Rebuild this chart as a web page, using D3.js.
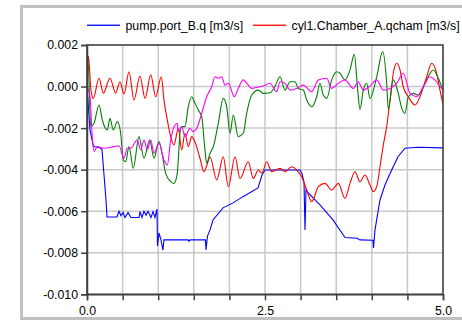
<!DOCTYPE html>
<html>
<head>
<meta charset="utf-8">
<script src="https://cdn.jsdelivr.net/npm/d3@7"></script>
<style>
  body { margin: 0; background: #fff; }
  svg { display: block; font-family: "Liberation Sans", Arial, sans-serif; }
</style>
</head>
<body>
<svg id="chart" width="462" height="322"></svg>
<script>
// time axis [s] and tick labels
const xTicks = [0, 0.5, 1, 1.5, 2, 2.5, 3, 3.5, 4, 4.5, 5];
const xLabels = [0, 2.5, 5];
const yTicks = [-0.010, -0.008, -0.006, -0.004, -0.002, 0.000, 0.002];

const legendNames = ["pump.port_B.q [m3/s]", "cyl1.Chamber_A.qcham [m3/s]"];

// pump.port_B.q
const pumpT = [0, 0.042, 0.088, 0.112, 0.183, 0.211, 0.239, 0.267, 0.281, 0.421, 0.449, 0.478, 0.506, 0.534, 0.576, 0.618, 0.73, 0.744, 0.772, 0.80, 0.829, 0.857, 0.899, 0.927, 0.955, 0.983, 0.99, 1.011, 1.039, 1.067, 1.081, 1.419, 1.433, 1.447, 1.664, 1.671, 1.692, 1.728, 1.77, 1.91, 2.051, 2.191, 2.402, 2.458, 2.50, 2.992, 3.02, 3.048, 3.062, 3.076, 3.09, 3.272, 3.455, 3.624, 3.792, 3.834, 4.017, 4.024, 4.045, 4.115, 4.185, 4.279, 4.368, 4.466, 4.649, 5.0];
const pumpQ = [0, -0.0021, -0.00286, -0.0029, -0.00295, -0.00305, -0.00426, -0.00546, -0.00628, -0.00628, -0.006, -0.00622, -0.00605, -0.0063, -0.00607, -0.0063, -0.0063, -0.00602, -0.0063, -0.006, -0.0062, -0.006, -0.0063, -0.00602, -0.0063, -0.0059, -0.00767, -0.00705, -0.00738, -0.00787, -0.00738, -0.00738, -0.00745, -0.00738, -0.00738, -0.00787, -0.0072, -0.0069, -0.00642, -0.00584, -0.0056, -0.0053, -0.00488, -0.00426, -0.00402, -0.00402, -0.0042, -0.0046, -0.0069, -0.00498, -0.00506, -0.0057, -0.00642, -0.00727, -0.0073, -0.00738, -0.0074, -0.00777, -0.0069, -0.00546, -0.00474, -0.00402, -0.00338, -0.00297, -0.00292, -0.00295];

// cyl1.Chamber_A.qcham
const chamT = [0, 0.02, 0.056, 0.088, 0.169, 0.229, 0.323, 0.403, 0.463, 0.52, 0.59, 0.66, 0.744, 0.815, 0.895, 0.965, 1.044, 1.081, 1.128, 1.176, 1.222, 1.282, 1.33, 1.376, 1.423, 1.47, 1.517, 1.587, 1.643, 1.685, 1.728, 1.822, 1.914, 1.985, 2.079, 2.149, 2.265, 2.336, 2.406, 2.458, 2.524, 2.594, 2.711, 2.781, 2.875, 2.945, 3.015, 3.086, 3.156, 3.249, 3.343, 3.437, 3.53, 3.624, 3.694, 3.764, 3.834, 3.904, 3.975, 4.021, 4.069, 4.115, 4.162, 4.209, 4.256, 4.302, 4.35, 4.396, 4.442, 4.513, 4.607, 4.677, 4.771, 4.841, 4.911, 4.958, 5.0];
const chamQ = [0.0003, 0.00147, -0.0002, -0.00057, 0.0004, -0.00032, 0.0004, -0.00032, 0.00023, -0.00036, 0.00071, -0.00065, 0.00051, -0.00057, 0.00056, -0.00049, 0.00047, -0.00065, -0.00161, -0.00241, -0.00281, -0.00201, -0.00305, -0.00225, -0.00289, -0.00241, -0.00267, -0.00345, -0.00411, -0.00378, -0.00339, -0.0045, -0.00338, -0.00482, -0.00338, -0.00442, -0.00362, -0.00442, -0.00402, -0.00416, -0.00362, -0.0041, -0.00394, -0.0041, -0.00386, -0.00402, -0.00434, -0.00498, -0.00554, -0.00482, -0.00466, -0.00498, -0.00466, -0.00538, -0.00466, -0.0041, -0.00458, -0.00426, -0.00474, -0.00506, -0.00482, -0.00386, -0.00281, -0.00193, -0.00065, 0.00064, 0.00112, 0.0008, -0.00001, -0.00049, -0.00089, -0.00049, 0.00047, 0.00112, 0.00064, -0.00017, -0.00085];

// green trace
const greenT = [0, 0.014, 0.052, 0.098, 0.169, 0.215, 0.285, 0.323, 0.369, 0.426, 0.473, 0.51, 0.544, 0.59, 0.65, 0.73, 0.80, 0.881, 0.941, 1.011, 1.058, 1.105, 1.176, 1.222, 1.268, 1.282, 1.306, 1.33, 1.376, 1.423, 1.47, 1.517, 1.563, 1.611, 1.657, 1.681, 1.728, 1.774, 1.844, 1.914, 1.962, 2.008, 2.055, 2.125, 2.195, 2.243, 2.313, 2.406, 2.476, 2.57, 2.64, 2.711, 2.781, 2.851, 2.921, 2.968, 3.038, 3.086, 3.156, 3.226, 3.272, 3.319, 3.367, 3.437, 3.507, 3.553, 3.624, 3.694, 3.754, 3.802, 3.834, 3.881, 3.928, 3.975, 4.069, 4.153, 4.209, 4.232, 4.302, 4.372, 4.42, 4.466, 4.513, 4.583, 4.653, 4.747, 4.864, 4.934, 5.0];
const greenQ = [0.0003, 0.00128, -0.00193, -0.00177, -0.00089, -0.00161, -0.00209, -0.00153, -0.00209, -0.00169, -0.00225, -0.00353, -0.00362, -0.00289, -0.00393, -0.00241, -0.00345, -0.00257, -0.00345, -0.00265, -0.0033, -0.00418, -0.00458, -0.00466, -0.00418, -0.00353, -0.00225, -0.00193, -0.00193, -0.00097, -0.00049, -0.00081, -0.00113, -0.00145, -0.00305, -0.00369, -0.00321, -0.00289, -0.00177, -0.00057, -0.00097, -0.00225, -0.00137, -0.00241, -0.00225, -0.00129, -0.00041, -0.00017, -0.00033, -0.0003, 0.0, 0.00047, -0.00017, 0.00023, 0.00023, -0.00009, -0.00017, -0.00065, -0.00097, -0.00049, 0.00016, -0.00041, -0.00057, 0.00032, 0.00071, 0.00064, 0.00032, 0.0008, 0.00155, -0.00017, -0.0011, -0.00017, 0.00016, -0.00057, 0.00047, 0.00168, 0.00016, -0.0011, 0.00032, -0.00033, -0.00105, -0.00129, -0.00049, -0.00033, -0.00041, 0.00016, 0.0008, 0.0004, -0.0002];

// magenta trace
const magT = [0, 0.042, 0.074, 0.098, 0.145, 0.239, 0.379, 0.449, 0.52, 0.566, 0.614, 0.706, 0.754, 0.80, 0.847, 0.895, 0.941, 1.011, 1.081, 1.128, 1.176, 1.222, 1.268, 1.282, 1.33, 1.376, 1.447, 1.493, 1.541, 1.611, 1.681, 1.751, 1.798, 1.844, 1.892, 1.938, 1.985, 2.069, 2.125, 2.195, 2.243, 2.313, 2.383, 2.476, 2.57, 2.664, 2.711, 2.781, 2.851, 2.945, 3.038, 3.156, 3.249, 3.367, 3.437, 3.53, 3.624, 3.74, 3.81, 3.881, 3.975, 4.069, 4.162, 4.256, 4.35, 4.442, 4.537, 4.63, 4.723, 4.817, 4.888, 4.982, 5.0];
const magQ = [0, -0.0005, -0.00241, -0.00313, -0.00289, -0.00297, -0.00289, -0.00285, -0.00345, -0.00297, -0.00297, -0.00257, -0.00305, -0.00257, -0.00305, -0.00257, -0.00321, -0.00273, -0.00353, -0.00378, -0.00257, -0.00193, -0.00177, -0.00217, -0.00193, -0.00241, -0.00201, -0.00217, -0.00201, -0.00129, -0.00049, -0.00001, 0.00047, 0.0004, 0.00047, 0.00007, 0.00016, -0.00049, -0.00009, 0.00032, 0.00016, -0.00009, -0.00004, 0.00003, 0.00016, -0.00025, 0.00023, 0.00016, -0.00017, -0.00009, 0.00007, -0.00025, 0.00032, 0.0004, -0.00009, 0.00016, 0.00032, -0.00009, 0.00023, -0.00017, 0.00003, 0.00032, -0.00017, -0.00009, 0.00016, 0.00064, -0.00033, -0.00049, -0.00001, 0.00047, 0.00032, -0.00008, -0.0001];

const svg = d3.select("#chart");

// outer window frame
svg.append("rect")
  .attr("x", 21.5).attr("y", 6.5)
  .attr("width", 460).attr("height", 312)
  .attr("fill", "#fff")
  .attr("stroke", "#c0c0c0")
  .attr("stroke-width", 3);

const x = d3.scaleLinear().domain([0, 5]).range([87, 443]);
const y = d3.scaleLinear().domain([-0.010, 0.002]).range([294.3, 45]);

// grid
svg.append("g")
  .selectAll("line")
  .data(xTicks)
  .join("line")
  .attr("x1", d => x(d)).attr("x2", d => x(d))
  .attr("y1", y.range()[1]).attr("y2", y.range()[0])
  .attr("stroke", "#c8c8c8").attr("stroke-width", 1.5);

svg.append("g")
  .selectAll("line")
  .data(yTicks)
  .join("line")
  .attr("x1", x.range()[0]).attr("x2", x.range()[1])
  .attr("y1", d => y(d)).attr("y2", d => y(d))
  .attr("stroke", "#c8c8c8").attr("stroke-width", 1.5);

svg.append("clipPath").attr("id", "clip")
  .append("rect")
  .attr("x", 87).attr("y", 45).attr("width", 356).attr("height", 249.3);

const series = [
  { t: pumpT, q: pumpQ, color: "#0000ff", curve: d3.curveLinear },
  { t: chamT, q: chamQ, color: "#ff0000", curve: d3.curveMonotoneX },
  { t: greenT, q: greenQ, color: "#008000", curve: d3.curveMonotoneX },
  { t: magT, q: magQ, color: "#ff00ff", curve: d3.curveMonotoneX }
];

const plot = svg.append("g").attr("clip-path", "url(#clip)");
series.forEach(s => {
  const line = d3.line()
    .x(i => x(s.t[i]))
    .y(i => y(s.q[i]))
    .curve(s.curve);
  plot.append("path")
    .attr("d", line(d3.range(s.t.length)))
    .attr("fill", "none")
    .attr("stroke", s.color)
    .attr("stroke-width", 1.1);
});

// plot border
svg.append("rect")
  .attr("x", 87).attr("y", 45).attr("width", 356).attr("height", 249.3)
  .attr("fill", "none").attr("stroke", "#404040").attr("stroke-width", 1.5);

const fmt = v => d3.format(".3f")(v).replace("\u2212", "-");

const yAxis = svg.append("g")
  .attr("transform", "translate(87,0)")
  .call(d3.axisLeft(y).tickValues(yTicks).tickSize(6).tickPadding(3).tickFormat(fmt));

const xAxis = svg.append("g")
  .attr("transform", "translate(0,294.3)")
  .call(d3.axisBottom(x).tickValues(xTicks).tickSize(6).tickPadding(6)
    .tickFormat(d => xLabels.includes(d) ? d3.format(".1f")(d) : ""));

[yAxis, xAxis].forEach(a => {
  a.select(".domain").attr("stroke", "#404040").attr("stroke-width", 1.5);
  a.selectAll(".tick line").attr("stroke", "#404040").attr("stroke-width", 1.5);
  a.selectAll(".tick text")
    .attr("fill", "#000")
    .style("font-family", "'Liberation Sans', Arial, sans-serif")
    .style("font-size", "12.3px");
});

// legend
const legendColors = ["#0000ff", "#ff0000"];
const legendX = [87, 253];
const legend = svg.append("g");
legendNames.forEach((name, i) => {
  legend.append("rect")
    .attr("x", legendX[i]).attr("y", 24.6)
    .attr("width", 33).attr("height", 1.3)
    .style("fill", legendColors[i]);
  legend.append("text")
    .attr("x", legendX[i] + 38.5).attr("y", 29.8)
    .style("fill", "#000")
    .style("font-size", "12.3px")
    .text(name);
});
</script>
</body>
</html>
